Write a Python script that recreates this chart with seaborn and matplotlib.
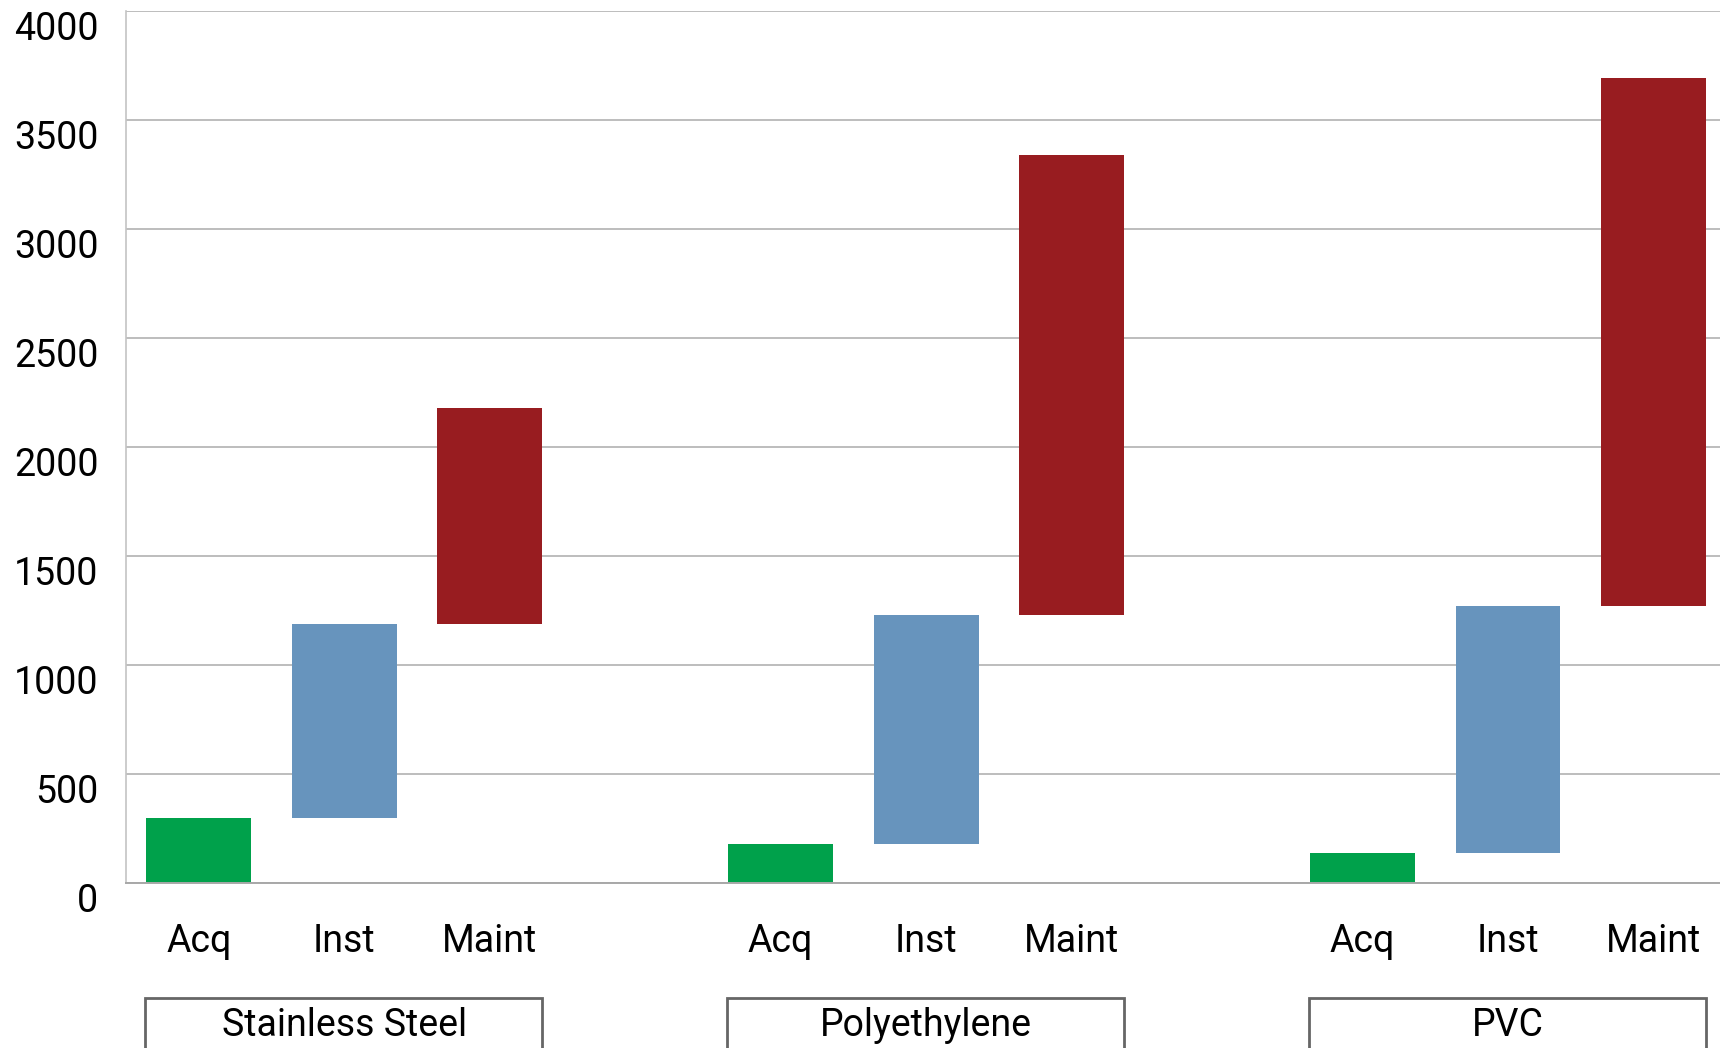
import pandas as pd
import matplotlib.pyplot as plt
import matplotlib.transforms as mtransforms
from matplotlib.patches import Rectangle
import seaborn as sns

# Werte (kumulative Oberkanten der schwebenden Balken)
materials = ['Stainless Steel', 'Polyethylene', 'PVC']
stages = ['Acq', 'Inst', 'Maint']
acq_top = [296, 176, 135]
inst_top = [1186, 1229, 1269]
maint_top = [2178, 3339, 3692]
stage_colors = {'Acq': '#00A14B', 'Inst': '#6794BD', 'Maint': '#981C20'}
y_ticks = [0, 500, 1000, 1500, 2000, 2500, 3000, 3500, 4000]

# Tabelle: jede Stufe beginnt dort, wo die vorige aufhört
rows = []
for i, m in enumerate(materials):
    tops = [acq_top[i], inst_top[i], maint_top[i]]
    bottoms = [0, acq_top[i], inst_top[i]]
    for s, b, t in zip(stages, bottoms, tops):
        rows.append({'material': m, 'stage': s, 'slot': f'{m}|{s}',
                     'bottom': b, 'height': t - b})
df = pd.DataFrame(rows)

# Kategorien mit Lücken zwischen den Materialgruppen
order = []
for i, m in enumerate(materials):
    order += [f'{m}|{s}' for s in stages]
    if i < len(materials) - 1:
        order.append(f'gap{i}')

sns.set_theme(style='white')
plt.rcParams['font.family'] = ['Roboto', 'DejaVu Sans']

fig = plt.figure(figsize=(17.2, 10.48), dpi=100)
ax = fig.add_axes([0.0733, 0.1579, 0.9267, 0.8316])

for s in stages:
    sub = df[df['stage'] == s]
    sns.barplot(data=sub, x='slot', y='height', order=order, ax=ax,
                color=stage_colors[s], saturation=1, width=0.72,
                errorbar=None, bottom=sub['bottom'].values, linewidth=0)

ax.set_ylim(0, 4000)
ax.set_xlim(-0.5, 10.457)
ax.set_yticks(y_ticks)
ax.set_yticklabels([str(v) for v in y_ticks], fontsize=27, va='top')
tick_pos = [order.index(sl) for sl in df['slot']]
ax.set_xticks(tick_pos)
ax.set_xticklabels(df['stage'], fontsize=27)
ax.tick_params(axis='y', length=0, pad=20, colors='black')
ax.tick_params(axis='x', length=0, pad=29, colors='black')
ax.set_xlabel('')
ax.set_ylabel('')

ax.yaxis.grid(True, color='#bdbdbd', linewidth=1.4)
ax.xaxis.grid(False)
ax.set_axisbelow(True)
for side in ['top', 'right']:
    ax.spines[side].set_visible(False)
ax.spines['left'].set_color('#c4c4c4')
ax.spines['left'].set_linewidth(1.2)
ax.spines['bottom'].set_color('#a8a8a8')
ax.spines['bottom'].set_linewidth(1.4)

# Gruppenbeschriftung in Kästen unter der Achse
trans = mtransforms.blended_transform_factory(ax.transData, ax.transAxes)
for i, m in enumerate(materials):
    center = order.index(f'{m}|Inst')
    ax.add_patch(Rectangle((center - 1.37, -0.35), 2.73, 0.35 - 0.1325,
                           transform=trans, clip_on=False, fill=False,
                           edgecolor='#666666', linewidth=2))
    ax.text(center, -0.1635, m, transform=trans, ha='center', va='center',
            fontsize=27, color='black')

fig.savefig('out.png', dpi=100)
